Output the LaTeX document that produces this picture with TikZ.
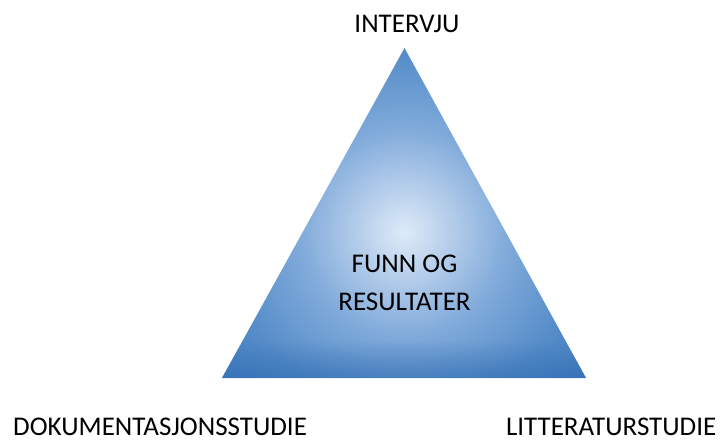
\documentclass[tikz,border=0pt]{standalone}
\usepackage{fontspec}
\setmainfont{Carlito}
\usetikzlibrary{fadings}
\definecolor{triLight}{RGB}{222,235,248}
\definecolor{triPale}{RGB}{185,208,236}
\definecolor{triMid}{RGB}{128,170,218}
\definecolor{triSky}{RGB}{86,141,201}
\definecolor{triBlue}{RGB}{56,118,188}
\definecolor{triDeep}{RGB}{46,106,176}
\pgfdeclareradialshading{triglow}{\pgfpoint{0bp}{0bp}}{%
  color(0bp)=(triLight); color(4bp)=(triPale); color(10bp)=(triMid);
  color(17bp)=(triSky); color(26bp)=(triBlue); color(50bp)=(triDeep)}
\tikzfading[name=fadebottom, top color=transparent!100, bottom color=transparent!45]
\tikzset{
  lbl/.style={font=\fontsize{27}{32}\selectfont, text=black, inner sep=0pt, anchor=base},
  midlbl/.style={font=\fontsize{27}{38}\selectfont, text=black, inner sep=0pt, align=center, anchor=base}
}
\begin{document}
\begin{tikzpicture}[x=1pt,y=-1pt]
  \useasboundingbox (0,0) rectangle (720,441);
  % triangle corners
  \coordinate (top) at (404.5,48);
  \coordinate (bl) at (222,378);
  \coordinate (br) at (586,378);
  % shaded triangle body with a darker base band
  \begin{scope}
    \clip (top) -- (br) -- (bl) -- cycle;
    \shade[shading=triglow] (404,232) circle (260);
    \fill[triDeep, path fading=fadebottom] (200,340) rectangle (600,378);
  \end{scope}
  % labels (the two-line node sits on the baseline of its last line)
  \node[lbl] (interview) at (407,33) {INTERVJU};
  \node[midlbl] (center) at (404.5,310) {FUNN OG\\RESULTATER};
  \node[lbl, anchor=base west, text depth=0pt] (doc) at (13,435.5) {DOKUMENTASJONSSTUDIE};
  \node[lbl, anchor=base east, text depth=0pt] (lit) at (716.5,435.5) {LITTERATURSTUDIE};
\end{tikzpicture}
\end{document}
